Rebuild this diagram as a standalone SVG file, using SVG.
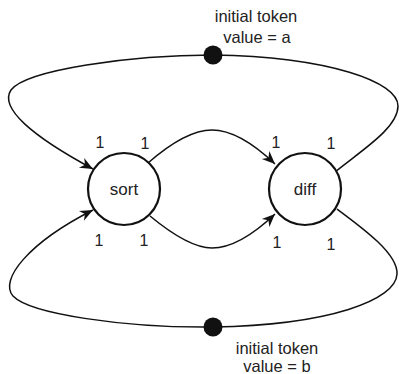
<svg xmlns="http://www.w3.org/2000/svg" width="399" height="374" viewBox="0 0 399 374">
  <style>
    .actor { fill: #fff; stroke: #111; stroke-width: 2.2; }
    .edge { fill: none; stroke: #111; stroke-width: 1.5; }
    .token { fill: #111; }
    text { font-family: "Liberation Sans", Arial, sans-serif; fill: #222; text-anchor: middle; }
    .name { font-size: 17px; }
    .rate { font-size: 16px; }
    .note { font-size: 16.5px; }
  </style>
  <defs>
    <marker id="arrow" viewBox="-14 -7 15 14" refX="0" refY="0" markerWidth="15" markerHeight="14" markerUnits="userSpaceOnUse" orient="auto">
      <path d="M0,0 L-13,-5.5 L-9,0 L-13,5.5 Z" fill="#111"/>
    </marker>
  </defs>

  <!-- connectors -->
  <g id="connectors">
    <!-- sort -> diff, upper arc -->
    <path class="edge" marker-end="url(#arrow)" d="M148,163 C172,142 194,130 212,130 C234,130 255,145 275,164"/>
    <!-- sort -> diff, lower arc -->
    <path class="edge" marker-end="url(#arrow)" d="M150,216 C173,235 194,248 212,248 C234,248 255,233 275,214"/>
    <!-- diff -> sort feedback, top, initial token a -->
    <path class="edge" marker-end="url(#arrow)" d="M335,172 C362,150 398,128 398,106 C398,82 330,57 213,55 C130,55 26,70 11,90 C-1,108 32,136 93,169"/>
    <!-- diff -> sort feedback, bottom, initial token b -->
    <path class="edge" marker-end="url(#arrow)" d="M337,209 C364,229 398,254 397,274 C396,300 330,325 213,327 C125,328 30,314 13,296 C-1,280 28,243 93,210"/>
    <!-- rates -->
    <g class="rates">
      <text class="rate" x="100" y="148">1</text>
      <text class="rate" x="145" y="149">1</text>
      <text class="rate" x="276" y="148">1</text>
      <text class="rate" x="331" y="149">1</text>
      <text class="rate" x="99" y="246">1</text>
      <text class="rate" x="144" y="246">1</text>
      <text class="rate" x="277" y="248">1</text>
      <text class="rate" x="331" y="250">1</text>
    </g>
  </g>

  <!-- actors -->
  <g id="sort">
    <circle class="actor" cx="124" cy="189" r="36"/>
    <text class="name" x="124" y="195">sort</text>
  </g>
  <g id="diff">
    <circle class="actor" cx="305" cy="189" r="36"/>
    <text class="name" x="305" y="195">diff</text>
  </g>

  <!-- initial tokens -->
  <g id="token-a">
    <circle class="token" cx="213" cy="55" r="9.5"/>
    <text class="note" x="256" y="22">initial token</text>
    <text class="note" x="257" y="43">value = a</text>
  </g>
  <g id="token-b">
    <circle class="token" cx="213" cy="327" r="9.5"/>
    <text class="note" x="277" y="354">initial token</text>
    <text class="note" x="277" y="372">value = b</text>
  </g>
</svg>
